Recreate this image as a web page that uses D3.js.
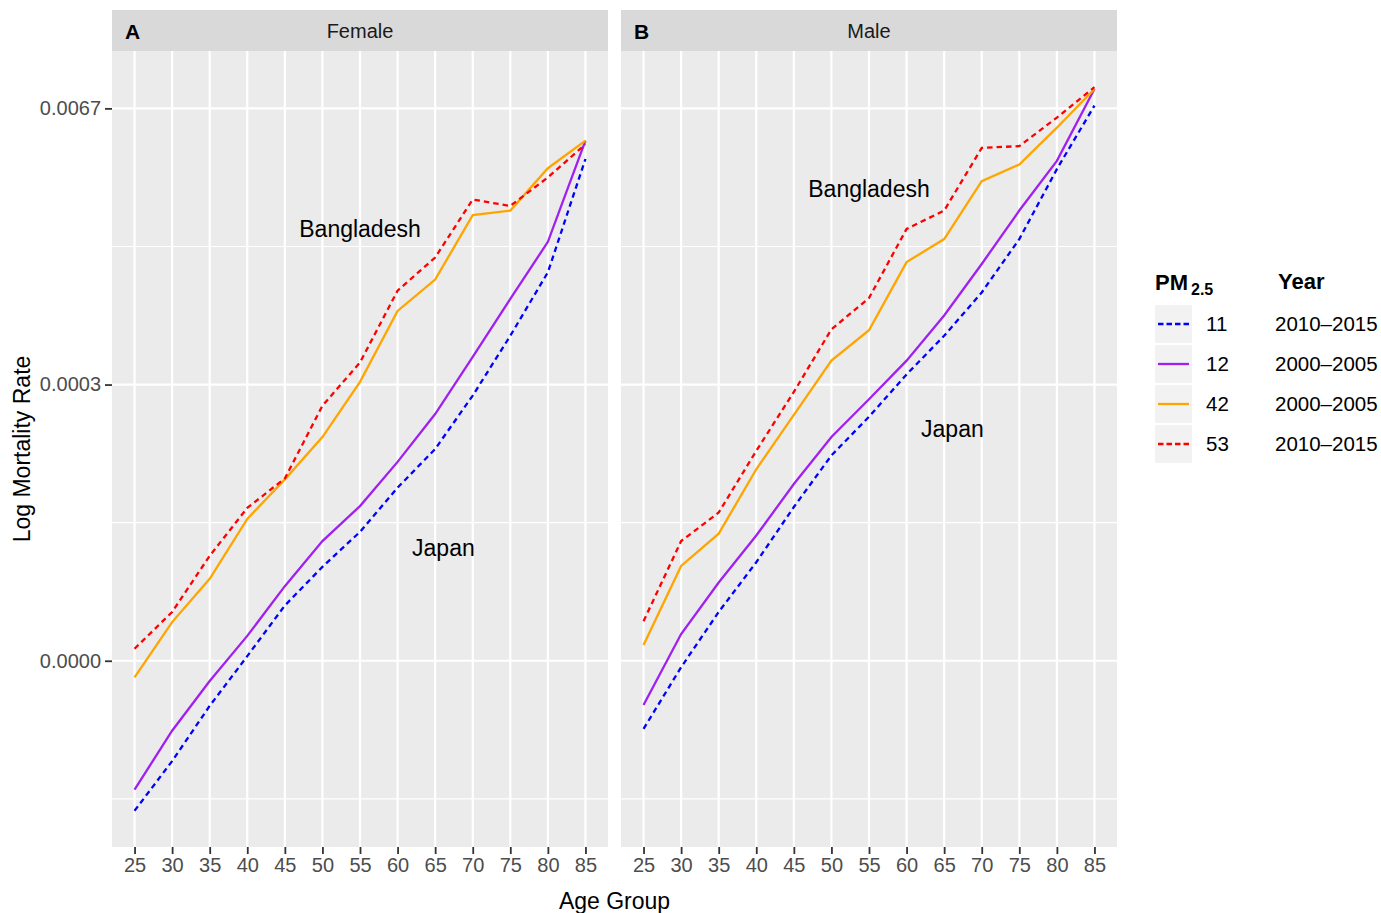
<!DOCTYPE html>
<html>
<head>
<meta charset="utf-8">
<script src="https://cdn.jsdelivr.net/npm/d3@7"></script>
<style>
  body { margin: 0; background: #ffffff; }
  svg text { font-family: "Liberation Sans", Arial, Helvetica, sans-serif; }
</style>
</head>
<body>
<svg id="chart" width="1381" height="913"></svg>
<script>
// Age groups on the x axis
const ages = [25, 30, 35, 40, 45, 50, 55, 60, 65, 70, 75, 80, 85];

// Facets
const sexes = ["Female", "Male"];
const panelTags = ["A", "B"];

// Series (PM2.5 level, period), natural log of mortality rate
const pmLevels = ["11", "12", "42", "53"];
const yearLabels = ["2010\u20132015", "2000\u20132005", "2000\u20132005", "2010\u20132015"];
const lineColors = ["#0000ff", "#a020f0", "#ffa500", "#ff0000"];
const lineDashed = [true, false, false, true];

const femalePM11 = [-12.63, -12.09, -11.49, -10.95, -10.40, -9.98, -9.60, -9.12, -8.70, -8.12, -7.47, -6.78, -5.55];
const femalePM12 = [-12.40, -11.76, -11.22, -10.73, -10.19, -9.70, -9.32, -8.84, -8.32, -7.70, -7.07, -6.45, -5.35];
const femalePM42 = [-11.18, -10.58, -10.11, -9.46, -9.03, -8.57, -7.97, -7.20, -6.86, -6.16, -6.11, -5.65, -5.35];
const femalePM53 = [-10.87, -10.47, -9.86, -9.34, -9.02, -8.23, -7.76, -6.98, -6.62, -5.99, -6.06, -5.75, -5.39];

const malePM11 = [-11.74, -11.07, -10.47, -9.93, -9.33, -8.77, -8.35, -7.89, -7.47, -7.00, -6.42, -5.66, -4.97];
const malePM12 = [-11.48, -10.71, -10.15, -9.64, -9.08, -8.57, -8.16, -7.74, -7.25, -6.69, -6.11, -5.57, -4.79];
const malePM42 = [-10.83, -9.97, -9.62, -8.92, -8.33, -7.74, -7.41, -6.67, -6.42, -5.79, -5.61, -5.21, -4.79];
const malePM53 = [-10.57, -9.70, -9.39, -8.72, -8.08, -7.40, -7.06, -6.31, -6.11, -5.43, -5.41, -5.10, -4.77];

// Y axis: breaks on the log scale, labelled as rates
const yTicks = [-11, -8, -5];
const yMinor = [-12.5, -9.5, -6.5];

// Country annotations (age position, log rate)
const labelText = ["Bangladesh", "Japan"];
const femaleLabelAge = [55, 66.1];
const femaleLabelLog = [-6.31, -9.78];
const maleLabelAge = [55, 66.1];
const maleLabelLog = [-5.88, -8.48];

const panelSeries = [
  [femalePM11, femalePM12, femalePM42, femalePM53],
  [malePM11, malePM12, malePM42, malePM53]
];
const panelLabels = [
  { age: femaleLabelAge, log: femaleLabelLog },
  { age: maleLabelAge, log: maleLabelLog }
];

const svg = d3.select("#chart");
svg.append("rect").attr("width", 1381).attr("height", 913).attr("fill", "#ffffff");

const panelX = [[112, 608], [621, 1117]];
const panelTop = 51, panelBottom = 847;
const stripTop = 10;

// shared y scale with 5% expansion around the data
const allVals = panelSeries.flat(2);
const [lo, hi] = d3.extent(allVals);
const pad = (hi - lo) * 0.05;
const y = d3.scaleLinear().domain([lo - pad, hi + pad]).range([panelBottom, panelTop]);

const lineW = 2.3;

panelSeries.forEach((seriesSet, p) => {
  const [x0, x1] = panelX[p];
  const x = d3.scalePoint().domain(ages).range([x0, x1]).padding(0.6);
  const step = x.step();
  const xNum = a => x(ages[0]) + (a - ages[0]) / 5 * step;

  const g = svg.append("g");

  // panel background
  g.append("rect").attr("x", x0).attr("y", panelTop)
    .attr("width", x1 - x0).attr("height", panelBottom - panelTop)
    .attr("fill", "#ebebeb");

  // minor horizontal grid
  g.selectAll(".ymin").data(yMinor).join("line")
    .attr("x1", x0).attr("x2", x1)
    .attr("y1", d => y(d)).attr("y2", d => y(d))
    .attr("stroke", "#ffffff").attr("stroke-width", 1.1);

  // major horizontal grid
  g.selectAll(".ymaj").data(yTicks).join("line")
    .attr("x1", x0).attr("x2", x1)
    .attr("y1", d => y(d)).attr("y2", d => y(d))
    .attr("stroke", "#ffffff").attr("stroke-width", 2.2);

  // vertical grid
  g.selectAll(".xmaj").data(ages).join("line")
    .attr("x1", d => x(d)).attr("x2", d => x(d))
    .attr("y1", panelTop).attr("y2", panelBottom)
    .attr("stroke", "#ffffff").attr("stroke-width", 2.2);

  // series lines
  const line = d3.line().x((d, i) => x(ages[i])).y(d => y(d));
  seriesSet.forEach((vals, s) => {
    g.append("path").datum(vals)
      .attr("d", line)
      .attr("fill", "none")
      .attr("stroke", lineColors[s])
      .attr("stroke-width", lineW)
      .attr("stroke-dasharray", lineDashed[s] ? "5.5,4" : null);
  });

  // country annotations
  const lab = panelLabels[p];
  labelText.forEach((t, i) => {
    g.append("text")
      .attr("x", xNum(lab.age[i]))
      .attr("y", y(lab.log[i]))
      .attr("dy", "0.35em")
      .attr("text-anchor", "middle")
      .attr("font-size", 23)
      .attr("fill", "#000000")
      .text(t);
  });

  // strip
  g.append("rect").attr("x", x0).attr("y", stripTop)
    .attr("width", x1 - x0).attr("height", panelTop - stripTop)
    .attr("fill", "#d9d9d9");
  g.append("text")
    .attr("x", (x0 + x1) / 2).attr("y", (stripTop + panelTop) / 2)
    .attr("dy", "0.35em").attr("text-anchor", "middle")
    .attr("font-size", 20).attr("fill", "#1a1a1a")
    .text(sexes[p]);
  g.append("text")
    .attr("x", x0 + 13).attr("y", (stripTop + panelTop) / 2 + 1)
    .attr("dy", "0.35em")
    .attr("font-size", 21).attr("font-weight", "bold").attr("fill", "#000000")
    .text(panelTags[p]);

  // x axis
  const xAxis = g.append("g")
    .attr("transform", `translate(0,${panelBottom})`)
    .call(d3.axisBottom(x).tickSize(7).tickPadding(4));
  xAxis.select(".domain").remove();
  xAxis.selectAll(".tick line").attr("stroke", "#333333").attr("stroke-width", 1.8);
  xAxis.selectAll(".tick text").attr("font-size", 20).attr("fill", "#4d4d4d")
    .attr("font-family", "'Liberation Sans', Arial, sans-serif");

  // y axis on the first panel only
  if (p === 0) {
    const yAxis = g.append("g")
      .attr("transform", `translate(${x0},0)`)
      .call(d3.axisLeft(y).tickValues(yTicks)
        .tickFormat(v => Math.exp(v).toFixed(4))
        .tickSize(7).tickPadding(4));
    yAxis.select(".domain").remove();
    yAxis.selectAll(".tick line").attr("stroke", "#333333").attr("stroke-width", 1.8);
    yAxis.selectAll(".tick text").attr("font-size", 20).attr("fill", "#4d4d4d")
      .attr("font-family", "'Liberation Sans', Arial, sans-serif");
  }
});

// axis titles
svg.append("text")
  .attr("x", (panelX[0][0] + panelX[1][1]) / 2).attr("y", 909)
  .attr("text-anchor", "middle").attr("font-size", 23).attr("fill", "#000000")
  .text("Age Group");
svg.append("text")
  .attr("transform", `translate(30,${(panelTop + panelBottom) / 2}) rotate(-90)`)
  .attr("text-anchor", "middle").attr("font-size", 23).attr("fill", "#000000")
  .text("Log Mortality Rate");

// legend
const lg = svg.append("g");
const pmTitle = lg.append("text")
  .attr("x", 1155).attr("y", 290)
  .attr("font-size", 22).attr("font-weight", "bold").attr("fill", "#000000");
pmTitle.append("tspan").text("PM");
pmTitle.append("tspan").attr("dy", 5).attr("dx", 3).attr("font-size", 16).text("2.5");
lg.append("text")
  .attr("x", 1278).attr("y", 289)
  .attr("font-size", 22).attr("font-weight", "bold").attr("fill", "#000000")
  .text("Year");

const keyTop = 304, keyH = 40, keyW = 37, keyX = 1155;
pmLevels.forEach((lvl, i) => {
  const ky = keyTop + i * keyH;
  lg.append("rect").attr("x", keyX).attr("y", ky + 1)
    .attr("width", keyW).attr("height", keyH - 2).attr("fill", "#f2f2f2");
  lg.append("line")
    .attr("x1", keyX + 3).attr("x2", keyX + keyW - 3)
    .attr("y1", ky + keyH / 2).attr("y2", ky + keyH / 2)
    .attr("stroke", lineColors[i]).attr("stroke-width", lineW)
    .attr("stroke-dasharray", lineDashed[i] ? "5.5,3" : null);
  lg.append("text")
    .attr("x", 1206).attr("y", ky + keyH / 2).attr("dy", "0.35em")
    .attr("font-size", 20.5).attr("fill", "#000000").text(lvl);
  lg.append("text")
    .attr("x", 1275).attr("y", ky + keyH / 2).attr("dy", "0.35em")
    .attr("font-size", 20.5).attr("fill", "#000000").text(yearLabels[i]);
});
</script>
</body>
</html>
